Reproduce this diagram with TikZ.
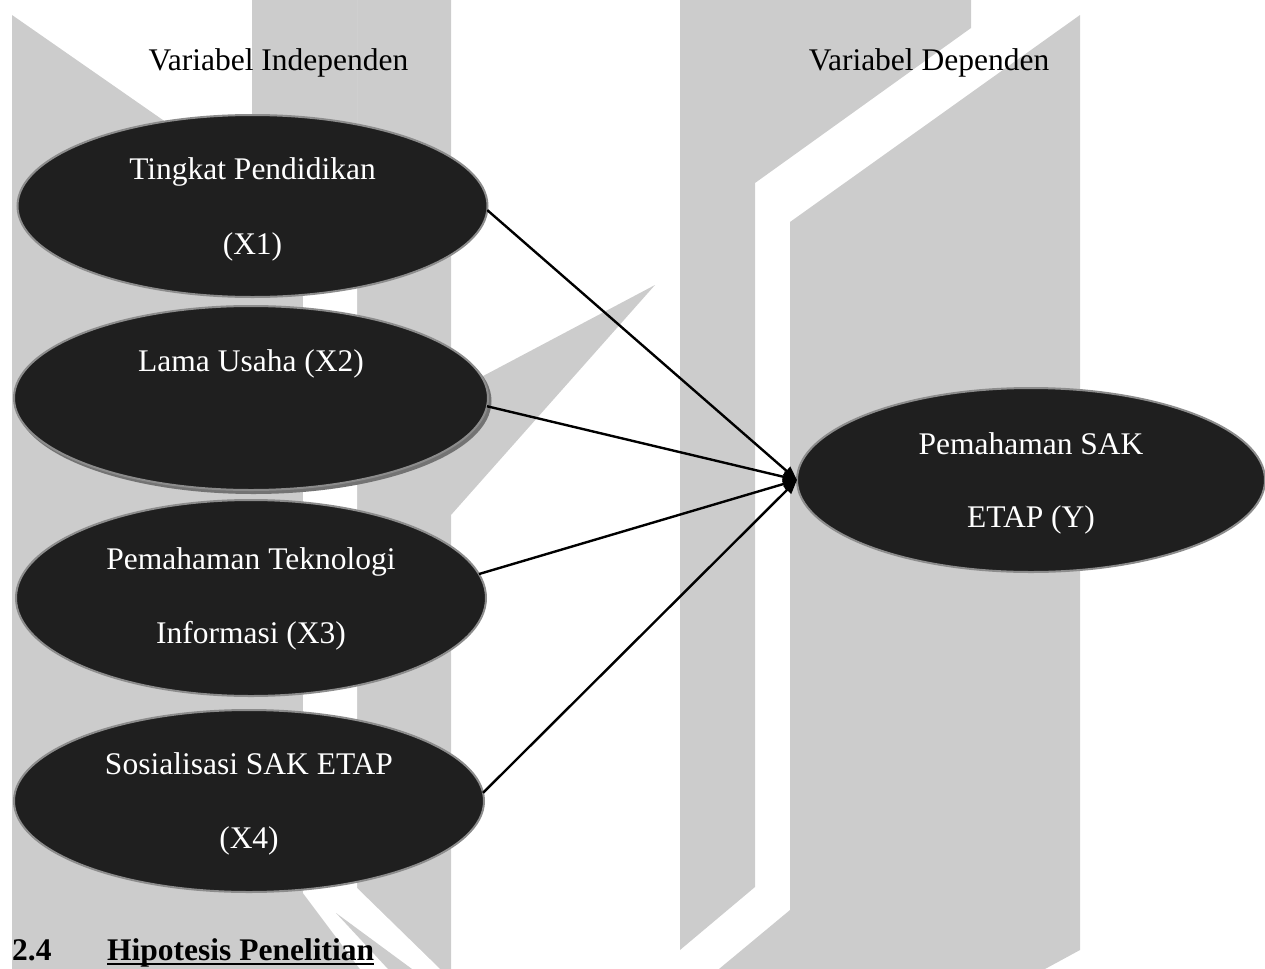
\documentclass[tikz,border=0pt]{standalone}
\usepackage{fontspec}
\setmainfont{Liberation Serif}
\usetikzlibrary{shapes.geometric,arrows.meta,calc}
\definecolor{wmgray}{HTML}{CCCCCC}
\definecolor{ellfill}{HTML}{1F1F1F}
\definecolor{ellborder}{HTML}{8C8C8C}
\begin{document}
\begin{tikzpicture}[x=1bp,y=-1bp,
  wm/.style={fill=wmgray,draw=none},
  ell/.style={ellipse,draw=ellborder,line width=2bp,fill=ellfill,inner sep=0pt,outer sep=0pt},
  lbl/.style={text=white,font=\fontsize{31.5bp}{36bp}\selectfont,inner sep=0pt,anchor=base},
  head/.style={text=black,font=\fontsize{31.5bp}{36bp}\selectfont,inner sep=0pt,anchor=base},
  sec/.style={text=black,font=\fontsize{31.5bp}{36bp}\selectfont\bfseries,inner sep=0pt,anchor=base west},
  conn/.style={line width=2.4bp,-{Triangle[length=14bp,width=11bp]}}
]
\useasboundingbox (0,0) rectangle (1265,969);
\clip (0,0) rectangle (1265,969);
% watermark
\fill[wm] (12,15) -- (252,182) -- (252,0) -- (451,0) -- (451,393) -- (655,285) -- (451,515) -- (451,969) -- (12,969) -- cycle;
\draw[draw=black!19,line width=0.6bp] (357,0) -- (357,260);
\fill[white] (303,250) -- (357,250) -- (357,888) -- (440,969) -- (360,969) -- (303,893) -- cycle;
\fill[wm] (336,913) -- (412,969) -- (388,969) -- cycle;
\fill[wm] (680,0) -- (971,0) -- (971,28) -- (755,183) -- (755,887) -- (680,950) -- cycle;
\fill[wm] (1080,15) -- (1080,950) -- (1045,969) -- (719,969) -- (790,910) -- (790,222) -- cycle;
% headings
\node[head] (hind) at (278.5,70) {Variabel Independen};
\node[head] (hdep) at (929,70) {Variabel Dependen};
% ellipses
\node[ell,minimum width=470bp,minimum height=182bp] (X1) at (252.5,206) {};
\node[ell,minimum width=474bp,minimum height=184bp,
  preaction={fill=black!55,draw=black!55,line width=2bp,transform canvas={shift={(2.5bp,-3bp)}}}] (X2) at (251,398) {};
\node[ell,minimum width=470bp,minimum height=196bp] (X3) at (251,598) {};
\node[ell,minimum width=470bp,minimum height=182bp] (X4) at (249,801) {};
\node[ell,minimum width=468bp,minimum height=184bp] (Y) at (1031,480) {};
% ellipse texts
\node[lbl] (X1a) at ($(X1.center)+(0,-27)$) {Tingkat Pendidikan};
\node[lbl] (X1b) at ($(X1.center)+(0,48)$) {(X1)};
\node[lbl] (X2a) at ($(X2.center)+(0,-27)$) {Lama Usaha (X2)};
\node[lbl] (X3a) at ($(X3.center)+(0,-29)$) {Pemahaman Teknologi};
\node[lbl] (X3b) at ($(X3.center)+(0,45)$) {Informasi (X3)};
\node[lbl] (X4a) at ($(X4.center)+(0,-27)$) {Sosialisasi SAK ETAP};
\node[lbl] (X4b) at ($(X4.center)+(0,47)$) {(X4)};
\node[lbl] (Ya) at ($(Y.center)+(0,-26)$) {Pemahaman SAK};
\node[lbl] (Yb) at ($(Y.center)+(0,47)$) {ETAP (Y)};
% connectors
\draw[conn] (X1.-1.5) -- (Y.west);
\draw[conn] (X2.-2.4) -- (Y.west);
\draw[conn] (X3.6) -- (Y.west);
\draw[conn] (X4.2) -- (Y.west);
% section heading
\node[sec] (s24) at (12,960) {2.4};
\node[sec] (hip) at (107,960) {Hipotesis Penelitian};
\draw[line width=2bp] ($(hip.base west)+(0,4)$) -- ($(hip.base east)+(0,4)$);
\end{tikzpicture}
\end{document}
